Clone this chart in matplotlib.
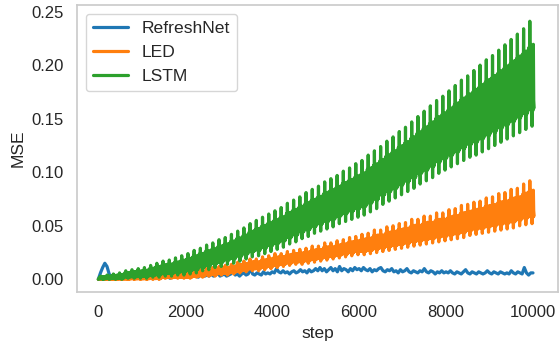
import numpy as np
import matplotlib
matplotlib.use('Agg')
import matplotlib.pyplot as plt
import seaborn as sns

# RefreshNet MSE, sampled every 50 steps (0 .. 10000)
refresh_steps = list(range(0, 10001, 50))
refresh_mse = [
    0.000, 0.006, 0.011, 0.015, 0.012, 0.005, 0.002, 0.003, 0.002, 0.001,
    0.003, 0.002, 0.002, 0.003, 0.001, 0.002, 0.003, 0.002, 0.001, 0.003, 0.002,
    0.003, 0.002, 0.004, 0.002, 0.001, 0.003, 0.002, 0.003, 0.002, 0.004,
    0.002, 0.003, 0.001, 0.003, 0.002, 0.004, 0.002, 0.003, 0.002, 0.003,
    0.002, 0.004, 0.003, 0.005, 0.003, 0.002, 0.004, 0.006, 0.003, 0.004,
    0.003, 0.005, 0.003, 0.004, 0.006, 0.003, 0.004, 0.005, 0.003, 0.004,
    0.005, 0.009, 0.004, 0.005, 0.003, 0.005, 0.006, 0.004, 0.005, 0.010,
    0.005, 0.004, 0.006, 0.005, 0.004, 0.007, 0.005, 0.006, 0.005, 0.007,
    0.006, 0.010, 0.007, 0.006, 0.008, 0.006, 0.007, 0.005, 0.007, 0.008,
    0.006, 0.007, 0.009, 0.007, 0.008, 0.006, 0.009, 0.007, 0.008, 0.010,
    0.008, 0.011, 0.008, 0.010, 0.007, 0.009, 0.011, 0.008, 0.010, 0.007,
    0.012, 0.008, 0.010, 0.009, 0.007, 0.010, 0.008, 0.011, 0.009, 0.010,
    0.008, 0.011, 0.009, 0.008, 0.010, 0.007, 0.009, 0.008, 0.010, 0.011,
    0.008, 0.007, 0.009, 0.008, 0.010, 0.007, 0.008, 0.006, 0.009, 0.007,
    0.008, 0.010, 0.007, 0.006, 0.008, 0.007, 0.006, 0.008, 0.007, 0.010,
    0.007, 0.006, 0.008, 0.007, 0.005, 0.007, 0.006, 0.008, 0.006, 0.007,
    0.006, 0.008, 0.006, 0.005, 0.007, 0.006, 0.005, 0.007, 0.009, 0.006,
    0.005, 0.007, 0.006, 0.005, 0.007, 0.006, 0.005, 0.006, 0.008, 0.006,
    0.005, 0.007, 0.006, 0.005, 0.007, 0.006, 0.005, 0.006, 0.005, 0.008,
    0.006, 0.005, 0.007, 0.006, 0.005, 0.011, 0.006, 0.004, 0.006, 0.006,
]

# LED / LSTM oscillate with a period of ~143 steps (70 cycles);
# per cycle: spike top and notch bottom
cycle_len = 143
led_peak = [
    0.001, 0.001, 0.001, 0.002, 0.002, 0.003, 0.003, 0.003, 0.004, 0.004,
    0.005, 0.005, 0.006, 0.006, 0.007, 0.008, 0.009, 0.010, 0.011, 0.012,
    0.013, 0.014, 0.016, 0.017, 0.019, 0.019, 0.021, 0.022, 0.024, 0.024,
    0.026, 0.027, 0.028, 0.029, 0.031, 0.031, 0.034, 0.034, 0.036, 0.037,
    0.039, 0.040, 0.042, 0.043, 0.046, 0.046, 0.049, 0.050, 0.052, 0.053,
    0.056, 0.056, 0.059, 0.059, 0.062, 0.062, 0.065, 0.066, 0.069, 0.070,
    0.072, 0.073, 0.076, 0.077, 0.080, 0.081, 0.084, 0.085, 0.089, 0.092,
]
led_low = [
    0.000, 0.000, 0.000, 0.000, 0.000, 0.000, 0.000, 0.000, 0.000, 0.000,
    0.001, 0.001, 0.001, 0.001, 0.001, 0.002, 0.002, 0.003, 0.003, 0.004,
    0.004, 0.005, 0.006, 0.007, 0.008, 0.008, 0.009, 0.010, 0.011, 0.012,
    0.013, 0.014, 0.014, 0.015, 0.016, 0.017, 0.018, 0.019, 0.020, 0.021,
    0.022, 0.023, 0.023, 0.024, 0.025, 0.026, 0.027, 0.028, 0.029, 0.030,
    0.031, 0.032, 0.033, 0.034, 0.035, 0.036, 0.037, 0.038, 0.039, 0.041,
    0.042, 0.043, 0.044, 0.045, 0.046, 0.047, 0.048, 0.050, 0.051, 0.052,
]
lstm_peak = [
    0.003, 0.004, 0.005, 0.006, 0.008, 0.009, 0.010, 0.011, 0.013, 0.015,
    0.017, 0.018, 0.020, 0.022, 0.024, 0.027, 0.029, 0.032, 0.034, 0.037,
    0.039, 0.042, 0.045, 0.048, 0.052, 0.055, 0.058, 0.061, 0.064, 0.067,
    0.071, 0.074, 0.077, 0.081, 0.084, 0.087, 0.091, 0.094, 0.097, 0.101,
    0.104, 0.108, 0.111, 0.116, 0.120, 0.124, 0.129, 0.133, 0.138, 0.142,
    0.147, 0.152, 0.157, 0.162, 0.167, 0.171, 0.176, 0.181, 0.186, 0.190,
    0.195, 0.200, 0.205, 0.209, 0.214, 0.219, 0.224, 0.229, 0.234, 0.241,
]
lstm_low = [
    0.000, 0.000, 0.000, 0.000, 0.001, 0.001, 0.001, 0.001, 0.002, 0.002,
    0.003, 0.003, 0.004, 0.004, 0.005, 0.006, 0.008, 0.009, 0.011, 0.012,
    0.014, 0.015, 0.017, 0.019, 0.021, 0.022, 0.024, 0.026, 0.028, 0.030,
    0.033, 0.035, 0.038, 0.040, 0.043, 0.045, 0.047, 0.049, 0.052, 0.054,
    0.056, 0.058, 0.060, 0.063, 0.066, 0.070, 0.073, 0.076, 0.079, 0.082,
    0.085, 0.089, 0.092, 0.095, 0.099, 0.102, 0.105, 0.108, 0.111, 0.114,
    0.116, 0.119, 0.122, 0.125, 0.128, 0.131, 0.134, 0.137, 0.140, 0.143,
]
final_step = 10000
led_final = 0.070
lstm_final = 0.175

# shape inside one cycle: (phase, level between notch=0 and spike=1)
cycle_shape = [(0.00, 0.45), (0.07, 0.16), (0.14, 0.75), (0.21, 0.18),
               (0.28, 1.00), (0.35, 0.20), (0.42, 0.78), (0.50, 0.15),
               (0.57, 0.72), (0.64, 0.00), (0.71, 0.72), (0.78, 0.15),
               (0.85, 0.78), (0.92, 0.17)]


def build_series(peaks, lows, last):
    xs, ys = [0], [0.0]
    for k, (hi, lo) in enumerate(zip(peaks, lows)):
        for ph, lev in cycle_shape:
            xs.append((k + ph) * cycle_len + 20)
            ys.append(lo + lev * (hi - lo))
    xs.append(final_step)
    ys.append(last)
    return np.array(xs), np.array(ys)


led_x, led_y = build_series(led_peak, led_low, led_final)
lstm_x, lstm_y = build_series(lstm_peak, lstm_low, lstm_final)

sns.set_theme(style='whitegrid')
plt.rcParams['font.family'] = ['Liberation Sans', 'DejaVu Sans']

fig, ax = plt.subplots(figsize=(5.6, 3.47), dpi=100)
fig.subplots_adjust(left=0.1375, right=0.996, bottom=0.158, top=0.985)

ax.plot(refresh_steps, refresh_mse, color='#1f77b4', linewidth=2.3, label='RefreshNet')
ax.plot(led_x, led_y, color='#ff7f0e', linewidth=2.3, label='LED')
ax.plot(lstm_x, lstm_y, color='#2ca02c', linewidth=2.3, label='LSTM')

ax.grid(False)
ax.set_xlabel('step', fontsize=12.5)
ax.set_ylabel('MSE', fontsize=12.5)
ax.set_xticks([0, 2000, 4000, 6000, 8000, 10000])
ax.set_yticks([0.00, 0.05, 0.10, 0.15, 0.20, 0.25])
ax.tick_params(labelsize=12)
ax.set_ylim(-0.012, 0.256)
ax.set_xlim(-490, 10570)
ax.legend(loc='upper left', fontsize=12.6)

plt.savefig('out.png', dpi=100)
